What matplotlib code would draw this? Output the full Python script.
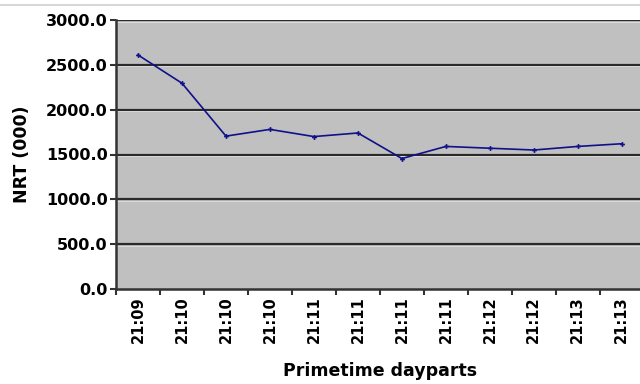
import matplotlib
matplotlib.use("Agg")
import matplotlib.pyplot as plt
from matplotlib.lines import Line2D
import numpy as np

categories = ["21:09", "21:10", "21:10", "21:10", "21:11", "21:11",
              "21:11", "21:11", "21:12", "21:12", "21:13", "21:13"]
nrt = [2610, 2295, 1705, 1780, 1700, 1740, 1455, 1590, 1570, 1550, 1590, 1620]
yticks = [0, 500, 1000, 1500, 2000, 2500, 3000]

fig = plt.figure(figsize=(6.4, 3.84), dpi=100)
ax = fig.add_axes([116/640, 1 - 289/384, (640 - 116) / 640 + 0.006, (289 - 20) / 384])
ax.set_facecolor("#c0c0c0")

x = np.arange(len(categories))
ax.set_xlim(-0.5, len(categories) - 0.5)
ax.set_ylim(0, 3000)

for t in yticks[1:]:
    ax.axhline(t, color="#2a2a2a", lw=1.6, zorder=1)
    ax.axhline(t - 18, color="#e0e0e0", lw=0.6, zorder=1)

ax.plot(x, nrt, color="#10108a", lw=1.2, marker="P", markersize=3.5,
        markeredgewidth=0, zorder=3)

ax.set_yticks(yticks)
ax.set_yticklabels([f"{v:.1f}" for v in yticks], fontsize=11.5, fontweight="bold")
ax.set_xticks(x)
ax.set_xticklabels(categories, rotation=90, fontsize=10.5, fontweight="bold")
ax.set_xticks(np.arange(-0.5, len(categories), 1), minor=True)
ax.tick_params(axis="x", which="major", length=0, pad=5)
ax.tick_params(axis="x", which="minor", length=4, width=1.5, color="#333333")
ax.tick_params(axis="y", length=4, width=1.5, color="#333333", pad=2)

for s in ["top", "right"]:
    ax.spines[s].set_visible(False)
ax.spines["left"].set_color("#333333")
ax.spines["left"].set_linewidth(1.8)
ax.spines["bottom"].set_color("#333333")
ax.spines["bottom"].set_linewidth(1.8)

ax.set_ylabel("NRT (000)", fontsize=12.5, fontweight="bold", labelpad=11)
ax.set_xlabel("Primetime dayparts", fontsize=12.5, fontweight="bold", labelpad=14)

fig.add_artist(Line2D([0, 1], [1 - 5/384, 1 - 5/384], transform=fig.transFigure,
                      color="#d0d0d0", lw=1.2))

fig.savefig("out.png", dpi=100)
